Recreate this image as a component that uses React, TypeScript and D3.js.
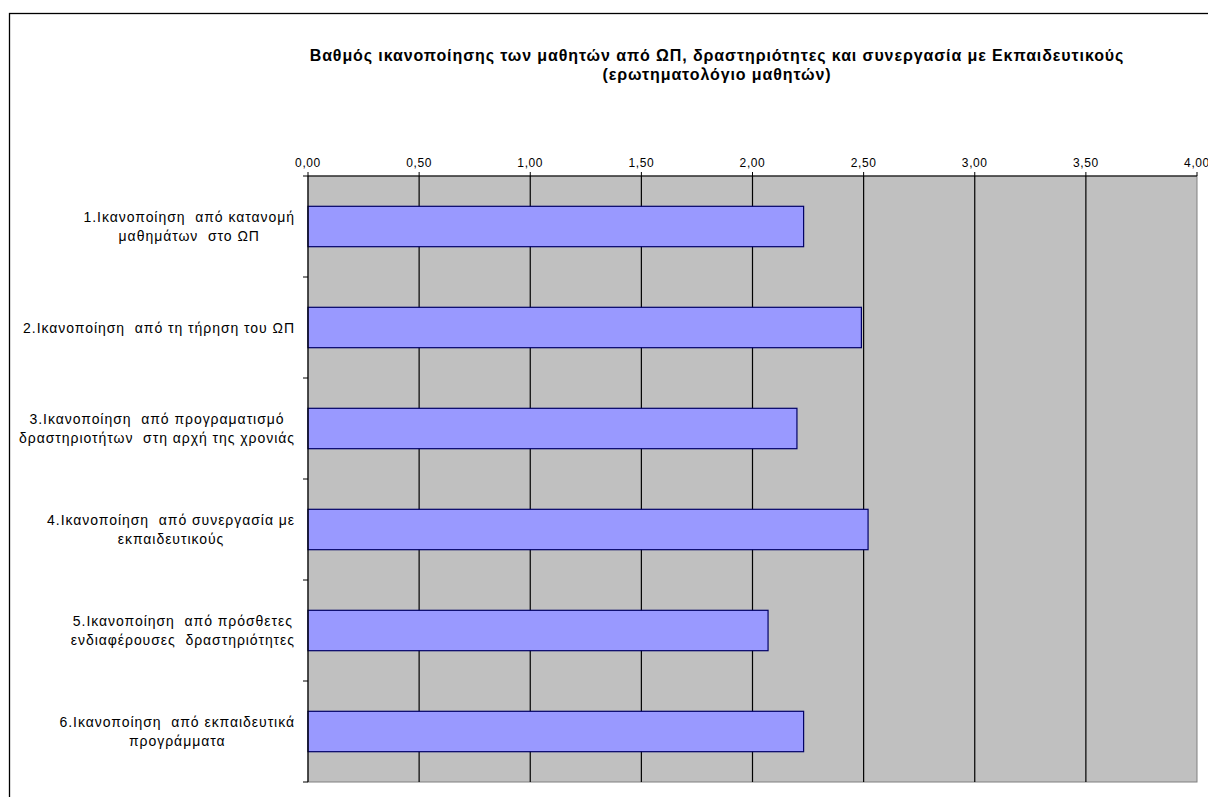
import React from "react";
import * as d3 from "d3";

const categories: string[][] = [
  ["1.Ικανοποίηση  από κατανομή", "μαθημάτων  στο ΩΠ"],
  ["2.Ικανοποίηση  από τη τήρηση του ΩΠ"],
  ["3.Ικανοποίηση  από προγραματισμό", "δραστηριοτήτων  στη αρχή της χρονιάς"],
  ["4.Ικανοποίηση  από συνεργασία με", "εκπαιδευτικούς"],
  ["5.Ικανοποίηση  από πρόσθετες", "ενδιαφέρουσες  δραστηριότητες"],
  ["6.Ικανοποίηση  από εκπαιδευτικά", "προγράμματα"],
];
const values: number[] = [2.23, 2.49, 2.2, 2.52, 2.07, 2.23];
const ticks: number[] = [0, 0.5, 1, 1.5, 2, 2.5, 3, 3.5, 4];
const titleLines: string[] = [
  "Βαθμός ικανοποίησης των μαθητών από ΩΠ, δραστηριότητες και συνεργασία με Εκπαιδευτικούς",
  "(ερωτηματολόγιο μαθητών)",
];

const FONT = "Arial, 'Liberation Sans', sans-serif";
const LABEL_SIZE = 14;
const LABEL_LS = 0.95;

let ctx: CanvasRenderingContext2D | null = null;
function measure(text: string, size: number, ls: number): number {
  if (!ctx) ctx = document.createElement("canvas").getContext("2d");
  if (!ctx) return text.length * size * 0.5;
  ctx.font = `${size}px 'Liberation Sans', Arial, sans-serif`;
  return ctx.measureText(text).width + ls * text.length;
}

export default function App() {
  const W = 1208;
  const H = 797;
  const left = 308;
  const right = 1197;
  const top = 176;
  const bottom = 782;

  const x = d3.scaleLinear().domain([0, 4]).range([left, right]);
  const y = d3
    .scaleBand<number>()
    .domain(d3.range(categories.length))
    .range([top, bottom])
    .paddingInner(0.6)
    .paddingOuter(0.3);
  const step = y.step();
  const fmt = (v: number) => d3.format(".2f")(v).replace(".", ",");

  const labelRight = 295;
  const lineH = 19;

  return (
    <svg
      width={W}
      height={H}
      style={{ position: "absolute", left: 0, top: 0, background: "#fff" }}
      fontFamily={FONT}
    >
      <rect x={0} y={0} width={W} height={H} fill="#fff" />
      <rect x={9.5} y={13.5} width={W + 20} height={H + 20} fill="none" stroke="#000" strokeWidth={1.3} />

      {titleLines.map((t, i) => (
        <text
          key={i}
          x={717}
          y={61 + i * 19}
          textAnchor="middle"
          fontSize={16}
          fontWeight="bold"
          letterSpacing={0.9}
          fill="#000"
        >
          {t}
        </text>
      ))}

      {/* plot area */}
      <rect x={left} y={top} width={right - left} height={bottom - top} fill="#C0C0C0" stroke="#808080" strokeWidth={1} />

      {/* gridlines */}
      {ticks.slice(1, -1).map((t) => (
        <line key={t} x1={x(t)} x2={x(t)} y1={top} y2={bottom} stroke="#000" strokeWidth={1.2} />
      ))}

      {/* bars */}
      {values.map((v, i) => (
        <rect
          key={i}
          x={x(0)}
          y={y(i)!}
          width={x(v) - x(0)}
          height={y.bandwidth()}
          fill="#9999FF"
          stroke="#000066"
          strokeWidth={1.2}
        />
      ))}

      {/* top axis */}
      <line x1={left} x2={right} y1={top} y2={top} stroke="#000" strokeWidth={1.2} />
      {ticks.map((t) => (
        <g key={t}>
          <line x1={x(t)} x2={x(t)} y1={top - 4} y2={top} stroke="#000" strokeWidth={1} />
          <text x={x(t)} y={top - 9} textAnchor="middle" fontSize={12} letterSpacing={0.6} fill="#000">
            {fmt(t)}
          </text>
        </g>
      ))}

      {/* left axis */}
      <line x1={left} x2={left} y1={top} y2={bottom} stroke="#000" strokeWidth={1.2} />
      {d3.range(categories.length + 1).map((i) => (
        <line
          key={i}
          x1={left - 5}
          x2={left}
          y1={top + i * step}
          y2={top + i * step}
          stroke="#000"
          strokeWidth={1}
        />
      ))}

      {categories.map((lines, i) => {
        const cy = top + (i + 0.5) * step;
        const maxW = Math.max(...lines.map((l) => measure(l, LABEL_SIZE, LABEL_LS)));
        const cx = labelRight - maxW / 2;
        const y0 = cy - ((lines.length - 1) * lineH) / 2 + 5;
        return (
          <text
            key={i}
            fontSize={LABEL_SIZE}
            letterSpacing={LABEL_LS}
            fill="#000"
            textAnchor="middle"
            style={{ whiteSpace: "pre" }}
          >
            {lines.map((l, j) => (
              <tspan key={j} x={cx} y={y0 + j * lineH}>
                {l}
              </tspan>
            ))}
          </text>
        );
      })}
    </svg>
  );
}
